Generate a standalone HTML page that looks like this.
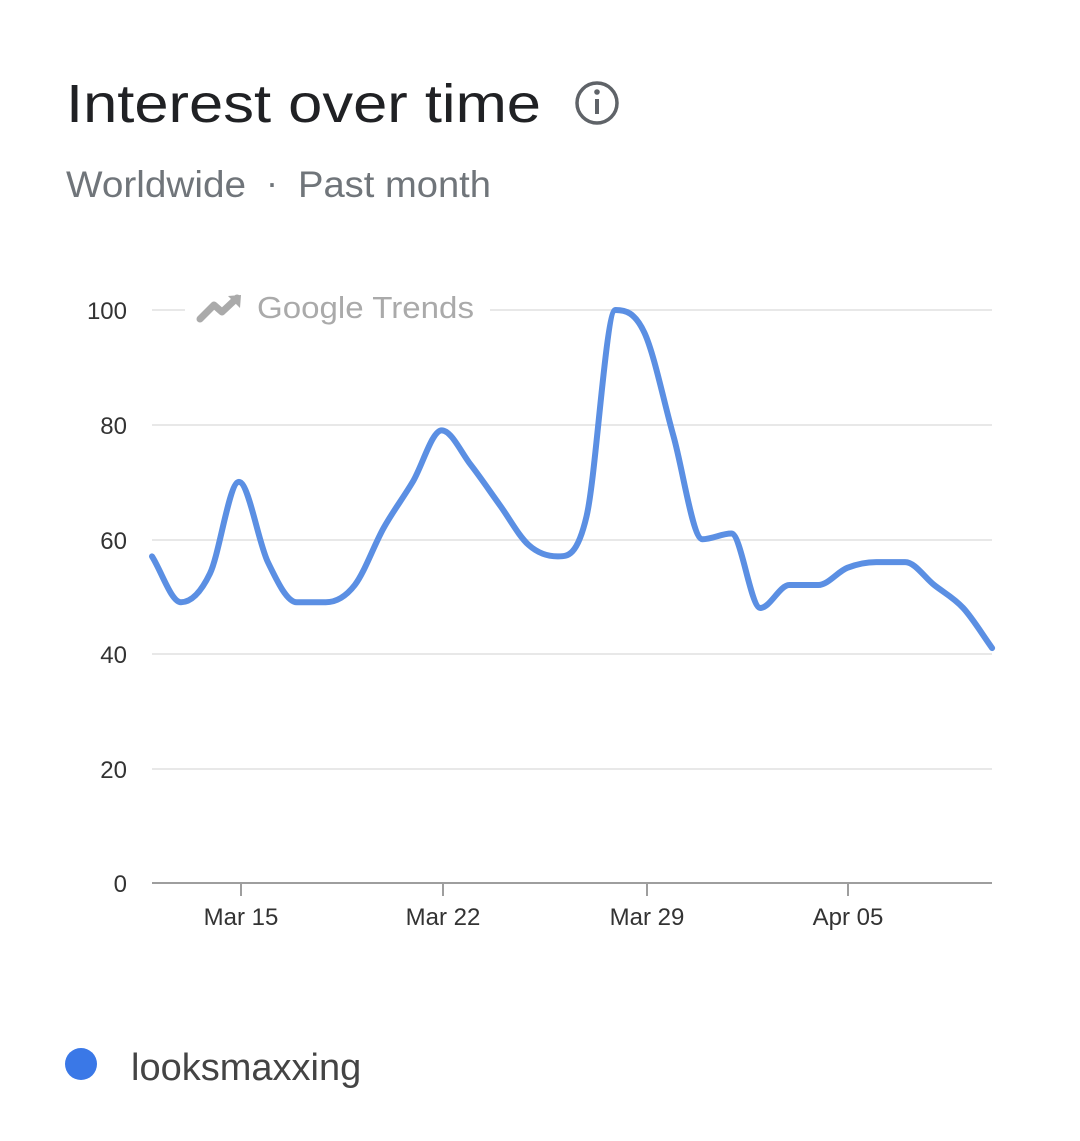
<!DOCTYPE html>
<html><head><meta charset="utf-8"><style>
body{margin:0;width:1080px;height:1136px;background:#fff;font-family:"Liberation Sans",sans-serif;overflow:hidden}
</style></head><body>
<svg width="1080" height="1136" xmlns="http://www.w3.org/2000/svg" font-family="Liberation Sans, sans-serif">
<text x="66" y="122" font-size="54" fill="#202124" textLength="475" lengthAdjust="spacingAndGlyphs">Interest over time</text>
<circle cx="597" cy="103" r="20" fill="none" stroke="#5f6368" stroke-width="3.5"/>
<rect x="595" y="99" width="4" height="15" fill="#5f6368"/>
<circle cx="597" cy="92" r="2.8" fill="#5f6368"/>
<text x="66" y="197" font-size="37" fill="#70757a" textLength="180" lengthAdjust="spacingAndGlyphs">Worldwide</text>
<text x="266" y="195" font-size="36" fill="#70757a">·</text>
<text x="298" y="197" font-size="37" fill="#70757a" textLength="193" lengthAdjust="spacingAndGlyphs">Past month</text>
<g stroke="#e8e8e8" stroke-width="2">
<line x1="152" y1="310" x2="185" y2="310"/><line x1="490" y1="310" x2="992" y2="310"/>
<line x1="152" y1="425" x2="992" y2="425"/>
<line x1="152" y1="540" x2="992" y2="540"/>
<line x1="152" y1="654" x2="992" y2="654"/>
<line x1="152" y1="769" x2="992" y2="769"/>
</g>
<line x1="152" y1="883" x2="992" y2="883" stroke="#9e9e9e" stroke-width="2"/>
<g stroke="#9e9e9e" stroke-width="2"><line x1="241" y1="883" x2="241" y2="896"/><line x1="443" y1="883" x2="443" y2="896"/><line x1="647" y1="883" x2="647" y2="896"/><line x1="848" y1="883" x2="848" y2="896"/></g>
<g font-size="24" fill="#333" text-anchor="end">
<text x="127" y="319">100</text><text x="127" y="434">80</text><text x="127" y="549">60</text><text x="127" y="663">40</text><text x="127" y="778">20</text><text x="127" y="892">0</text></g>
<g font-size="24" fill="#333" text-anchor="middle">
<text x="241" y="925">Mar 15</text><text x="443" y="925">Mar 22</text><text x="647" y="925">Mar 29</text><text x="848" y="925">Apr 05</text></g>
<path d="M200 319 L214 305 L222 312 L237 298" fill="none" stroke="#aaa" stroke-width="7" stroke-linecap="round" stroke-linejoin="round"/>
<path d="M228 296 L241 295 L240 308 Z" fill="#aaa"/>
<text x="257" y="318" font-size="31" fill="#aaa" textLength="217" lengthAdjust="spacingAndGlyphs">Google Trends</text>
<path id="ln" fill="none" stroke="#5b8fe3" stroke-width="6" stroke-linejoin="round" stroke-linecap="round"/>
<circle cx="81" cy="1064" r="16" fill="#3a78e7"/>
<text x="131" y="1080" font-size="38" fill="#444">looksmaxxing</text>
</svg>
<script>
var v=[57,49,54,70,56,49,49,52,62,70,79,73,66,59,57,64,100,96,78,60,61,48,52,52,55,56,56,52,48,41];
var p=v.map(function(d,i){return [152+i*28.97,883-d*5.73];});
var n=p.length,m=[],dx=28.97,s=[];
for(var i=0;i<n-1;i++)s.push((p[i+1][1]-p[i][1])/dx);
for(var i=0;i<n;i++){if(i==0)m.push(s[0]);else if(i==n-1)m.push(s[n-2]);else m.push(s[i-1]*s[i]<=0?0:(s[i-1]+s[i])/2);}
var d="M"+p[0][0]+" "+p[0][1];
for(var i=0;i<n-1;i++){var h=dx/3;d+=" C"+(p[i][0]+h)+" "+(p[i][1]+m[i]*h)+" "+(p[i+1][0]-h)+" "+(p[i+1][1]-m[i+1]*h)+" "+p[i+1][0]+" "+p[i+1][1];}
document.getElementById("ln").setAttribute("d",d);
</script>
</body></html>
